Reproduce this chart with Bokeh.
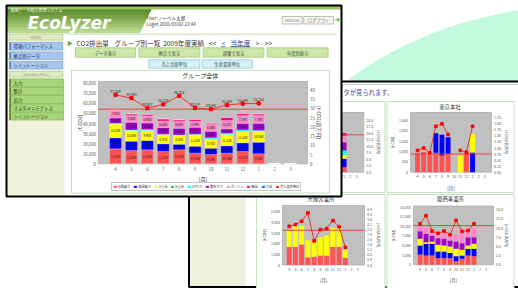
import math
import numpy as np
from bokeh.plotting import figure
from bokeh.models import Range1d, ColumnDataSource, Legend, LegendItem
from bokeh.core.properties import value
from bokeh.embed import file_html
from bokeh.resources import INLINE

NAN = float("nan")

# ---------------- data ----------------
months = ["4", "5", "6", "7", "8", "9", "10", "11", "12", "1", "2", "3"]
fuels = ["昼間電力", "夜間電力", "A重油", "B重油", "LPガス", "都市ガス", "ガソリン", "軽油", "灯油"]
fuel_colors = ["#ff5252", "#0000ff", "#ffff00", "#00e000", "#00ffff", "#a000c8", "#ff88c8", "#ff0080", "#0070c0"]
line_name = "売上高原単位"

# グループ全体 [t-CO2]
group_day = [14850, 13200, 13860, 12210, 13860, 10560, 9240, 10560, 12210, 9900, 0, 0]
group_night = [10900, 9240, 9240, 7590, 5610, 6930, 6270, 7260, 8580, 11550, 0, 0]
group_a_oil = [13860, 10560, 9900, 8910, 8580, 11220, 8910, 11220, 11220, 10560, 0, 0]
group_b_oil = [0, 0, 0, 0, 0, 0, 0, 0, 0, 0, 0, 0]
group_lpg = [660, 660, 990, 660, 660, 660, 1320, 1320, 1650, 990, 0, 0]
group_city_gas = [5280, 7590, 6600, 6600, 6600, 6930, 6600, 4290, 6600, 7260, 0, 0]
group_gasoline = [7920, 6600, 6930, 6600, 6600, 5940, 6600, 8250, 7590, 7590, 0, 0]
group_diesel = [0, 1650, 1320, 1980, 1650, 1650, 1320, 2970, 1980, 1650, 0, 0]
group_kerosene = [0, 0, 0, 0, 0, 0, 0, 0, 0, 0, 0, 0]
group_intensity = [37.228, 35.480, 30.007, 32.133, 36.752, 30.157, 29.540, 31.808, 32.548, 32.712, NAN, NAN]
group_target = 54180
group_ticks_l = [0, 10000, 20000, 30000, 40000, 50000, 60000, 70000, 80000]
group_ticks_r = [0, 5, 10, 15, 20, 25, 30, 35, 40]

# partly hidden chart (only the last months are visible)
part_day = [0, 0, 0, 0, 0, 0, 0, 0, 0, 250, 0, 0]
part_night = [0, 0, 0, 0, 0, 0, 0, 0, 0, 420, 0, 0]
part_a_oil = [0, 0, 0, 0, 0, 0, 0, 0, 0, 200, 0, 0]
part_lpg = [0, 0, 0, 0, 0, 0, 0, 0, 0, 215, 0, 0]
part_city_gas = [0, 0, 0, 0, 0, 0, 0, 0, 0, 415, 0, 0]
part_gasoline = [0, 0, 0, 0, 0, 0, 0, 0, 0, 335, 0, 0]
part_diesel = [0, 0, 0, 0, 0, 0, 0, 0, 0, 135, 0, 0]
part_target = 1880
part_ticks_r = [0.0, 2.5, 5.0, 7.5, 10.0, 12.5, 15.0, 17.5, 20.0]

# 東京本社
tokyo_day = [930, 975, 815, 939, 808, 890, 0, 0, 939, 0, 0, 0]
tokyo_night = [0, 0, 0, 949, 1000, 804, 0, 0, 0, 953, 0, 0]
tokyo_a_oil = [0, 0, 0, 0, 0, 0, 0, 808, 0, 906, 0, 0]
tokyo_intensity = [0.90, 1.00, 0.80, 1.90, 2.00, 1.56, NAN, 0.90, 0.83, 1.90, NAN, NAN]
tokyo_target = 880
tokyo_ticks_l = [0, 500, 1000, 1500, 2000, 2500]
tokyo_ticks_r = [0.00, 0.25, 0.50, 0.75, 1.00, 1.25, 1.50, 1.75, 2.00, 2.25]

# 大阪営業所
osaka_day = [1680, 1680, 1930, 720, 790, 890, 890, 1680, 1680, 670, 0, 0]
osaka_a_oil = [1590, 1970, 1780, 1590, 1460, 1680, 1870, 1780, 1710, 760, 0, 0]
osaka_intensity = [3.07, 3.21, 3.47, 4.14, 1.91, 2.81, 2.89, 3.52, 3.04, 1.40, NAN, NAN]
osaka_target = 3260
osaka_ticks_l = [0, 1000, 2000, 3000, 4000, 5000]
osaka_ticks_r = [0.0, 0.4, 0.8, 1.2, 1.6, 2.0, 2.4, 2.8, 3.2, 3.6, 4.0, 4.4]

# 関西事業所
kansai_day = [2680, 2420, 2420, 1720, 1720, 1720, 940, 1560, 2420, 2240, 0, 0]
kansai_night = [2350, 3050, 3050, 1740, 1740, 1320, 1300, 860, 1740, 1920, 0, 0]
kansai_a_oil = [1770, 430, 610, 1740, 1570, 1730, 1920, 1480, 870, 1310, 0, 0]
kansai_city_gas = [1950, 2170, 1560, 1730, 1730, 1560, 1910, 1740, 2170, 1730, 0, 0]
kansai_gasoline = [1450, 1560, 1040, 1560, 1570, 1310, 2000, 3130, 1910, 2430, 0, 0]
kansai_intensity = [11.2, 13.4, 9.2, 8.6, 9.2, 8.2, 12.1, 9.1, 9.35, 11.2, NAN, NAN]
kansai_target = 10200
kansai_ticks_l = [0, 2500, 5000, 7500, 10000, 12500, 15000]
kansai_ticks_r = [0.0, 2.5, 5.0, 7.5, 10.0, 12.5, 15.0]

# ---------------- canvas (data units = page pixels) ----------------
W, H = 518, 288
X0, X1 = 0, W
YB, YT = H, 0
FONT = "Noto Sans CJK JP"

p = figure(width=W, height=H, x_range=Range1d(X0, X1), y_range=Range1d(YB, YT),
           output_backend="svg", toolbar_location=None, min_border=0,
           x_axis_location=None, y_axis_location=None)
p.xgrid.visible = False
p.ygrid.visible = False
p.outline_line_color = None
p.background_fill_color = "white"
p.border_fill_color = "white"


def fsz(v):
    return f"{v:.2f}px"


def box(l, r, t, b, fill, line=None, lw=1.0, dash="solid"):
    p.quad(left=[l], right=[r], top=[t], bottom=[b], fill_color=fill,
           line_color=line, line_width=lw, line_dash=dash)


def hline(x0, x1, y, color, lw=1.0, dash="solid"):
    p.segment(x0=[x0], x1=[x1], y0=[y], y1=[y], line_color=color, line_width=lw, line_dash=dash)


def label(x, y, s, size, color="#333333", align="left", baseline="middle", angle=0.0,
          style="normal", font=FONT, xr="default", yr="default", xo=0, yo=0):
    xs = list(x) if isinstance(x, (list, tuple)) else [x]
    ys = list(y) if isinstance(y, (list, tuple)) else [y]
    ts = list(s) if isinstance(s, (list, tuple)) else [s]
    p.text(x=xs, y=ys, text=ts, x_range_name=xr, y_range_name=yr,
           text_font=value(font), text_font_size=fsz(size), text_color=color,
           text_align=align, text_baseline=baseline, angle=angle,
           text_font_style=style, x_offset=xo, y_offset=yo)


def span_range(p_lo, p_hi, v_lo, v_hi, f_start, f_end):
    k = (v_hi - v_lo) / (p_hi - p_lo)
    return Range1d(start=v_lo + (f_start - p_lo) * k, end=v_lo + (f_end - p_lo) * k)


def chart(key, frame, xlim, lim_l, lim_r, stacks, colors, intensity, target,
          ticks_l, ticks_r, fmt_l, fmt_r, bar_w, tick_size, title=None, title_xy=None,
          ylab_x=None, rlab_x=None, xlab_y=None, seg_labels=False, point_labels=False,
          marker=2.6, bar_line=None, lab_size=None):
    l, r, t, b = frame
    kx, kl, kr = key + "_x", key + "_l", key + "_r"
    p.extra_x_ranges[kx] = span_range(l, r, xlim[0], xlim[1], X0, X1)
    p.extra_y_ranges[kl] = span_range(b, t, lim_l[0], lim_l[1], YB, YT)
    p.extra_y_ranges[kr] = span_range(b, t, lim_r[0], lim_r[1], YB, YT)
    box(l, r, t, b, "#c0c0c0", "#a8a8a8", 0.7)
    xs = list(range(len(months)))
    data = {"x": xs}
    names = []
    for i, s in enumerate(stacks):
        data[f"s{i}"] = s
        names.append(f"s{i}")
    src = ColumnDataSource(data)
    if bar_line:
        bars = p.vbar_stack(names, x="x", width=bar_w, color=colors, source=src,
                            x_range_name=kx, y_range_name=kl,
                            line_color="#ffffff", line_alpha=0.45, line_width=0.5)
    else:
        bars = p.vbar_stack(names, x="x", width=bar_w, fill_color=colors, line_color=None,
                            source=src, x_range_name=kx, y_range_name=kl)
    if seg_labels:
        arr = np.array(stacks, dtype=float)
        tops = np.cumsum(arr, axis=0)
        mids = tops - arr / 2
        lx, ly, lt = [], [], []
        for i in range(arr.shape[0]):
            for j in range(arr.shape[1]):
                if arr[i, j] >= 4000:
                    lx.append(xs[j]); ly.append(float(mids[i, j])); lt.append(f"{int(arr[i, j]):,}")
        label(lx, ly, lt, 3.1, "#222222", "center", "middle", xr=kx, yr=kl)
    p.segment(x0=[xlim[0]], x1=[xlim[1]], y0=[target], y1=[target], x_range_name=kx,
              y_range_name=kl, line_color="#ee3333", line_width=0.9)
    ln = mk = None
    if intensity is not None:
        ln = p.line(xs, intensity, x_range_name=kx, y_range_name=kr, line_color="#e82828", line_width=0.9)
        mk = p.scatter(xs, intensity, x_range_name=kx, y_range_name=kr, marker="square",
                       size=marker, color="#ff0000")
        if point_labels:
            px = [xs[i] for i, v in enumerate(intensity) if not math.isnan(v)]
            py = [v for v in intensity if not math.isnan(v)]
            pt = [f"{v:.3f}" for v in intensity if not math.isnan(v)]
            label(px, py, pt, 3.4, "#222222", "center", "bottom", xr=kx, yr=kr, yo=-2)
    if ticks_l is not None:
        label([xlim[0]] * len(ticks_l), ticks_l, [fmt_l(v) for v in ticks_l], tick_size,
              "#555555", "right", "middle", xr=kx, yr=kl, xo=-2.5)
    if ticks_r is not None:
        label([xlim[1]] * len(ticks_r), ticks_r, [fmt_r(v) for v in ticks_r], tick_size,
              "#555555", "left", "middle", xr=kx, yr=kr, xo=2.5)
    label(xs, [lim_l[0]] * len(xs), months, tick_size, "#555555", "center", "top",
          xr=kx, yr=kl, yo=3)
    cy = (t + b) / 2
    cx = (l + r) / 2
    ls = lab_size if lab_size else tick_size + 0.6
    if ylab_x is not None:
        label(ylab_x, cy, "[t-CO2]", ls, "#333333", "center", "middle", angle=math.pi / 2)
    if rlab_x is not None:
        label(rlab_x, cy, "[t-CO2/百万円]", ls, "#333333", "center", "middle", angle=-math.pi / 2)
    if xlab_y is not None:
        label(cx, xlab_y, "[月]", tick_size + 0.8, "#333333", "center", "middle")
    if title:
        label(title_xy[0], title_xy[1], title, tick_size + 1.8, "#333333", "center", "middle")
    return bars, ln, mk


def fmt_int(v):
    return f"{int(v):,}"


def fmt1(v):
    return f"{v:.1f}"


def fmt2(v):
    return f"{v:.2f}"


# ---------------- background: mint arc ----------------
p.ellipse(x=[573], y=[390], width=[768], height=[768], fill_color="#c2f9df", line_color=None)

# ---------------- second (back) window ----------------
box(188.5, 530, 81, 286.5, "white", "black", 2)
box(190, 245, 82, 285.5, "#eef2dc")
hline(341, 518, 84, "#9a9ac0", 1, "1 1")
label(343, 92, "タが見られます。", 6.3, "#4848a0")
box(250, 384.5, 101, 192, "white", "#c4e0bc", 1)
box(386.5, 513.5, 101, 192, "white", "#c4e0bc", 1)
box(256, 384.5, 194, 292, "white", "#c4e0bc", 1)
box(386.5, 513.5, 194, 292, "white", "#c4e0bc", 1)

chart("part", (280, 363.3, 112, 171.7), (-1.08, 12.14), (0, 3000), (0, 23.1),
      [part_day, part_night, part_a_oil, part_lpg, part_city_gas, part_gasoline, part_diesel],
      [fuel_colors[i] for i in (0, 1, 2, 4, 5, 6, 7)], None, part_target,
      None, part_ticks_r, fmt_int, fmt1, 0.8, 3.6, rlab_x=377.5, lab_size=3.6)

chart("tokyo", (410, 491, 112, 171.7), (-1.15, 12.1), (0, 2890), (0, 2.47),
      [tokyo_day, tokyo_night, tokyo_a_oil], fuel_colors[0:3], tokyo_intensity, tokyo_target,
      tokyo_ticks_l, tokyo_ticks_r, fmt_int, fmt2, 0.8, 3.6, title="東京本社",
      title_xy=(449.5, 106), ylab_x=391.5, rlab_x=505.5, xlab_y=187.5, lab_size=3.6)

chart("osaka", (282, 364, 205, 264.5), (-1.07, 12.07), (0, 5580), (0, 4.72),
      [osaka_day, osaka_a_oil], [fuel_colors[0], fuel_colors[2]], osaka_intensity, osaka_target,
      osaka_ticks_l, osaka_ticks_r, fmt_int, fmt1, 0.8, 3.6, title="大阪営業所",
      title_xy=(320.5, 198.8), ylab_x=264, rlab_x=377.5, xlab_y=279.5, lab_size=3.6)

chart("kansai", (413, 493, 205.5, 264.3), (-1.1, 12.25), (0, 15310), (0, 16.04),
      [kansai_day, kansai_night, kansai_a_oil, kansai_city_gas, kansai_gasoline],
      [fuel_colors[i] for i in (0, 1, 2, 5, 6)], kansai_intensity, kansai_target,
      kansai_ticks_l, kansai_ticks_r, fmt_int, fmt1, 0.8, 3.6, title="関西事業所",
      title_xy=(450, 198.8), ylab_x=393, rlab_x=505.5, xlab_y=279.5, lab_size=3.6)

# ---------------- main (front) window ----------------
box(6, 341, 5, 196, "white")
# header gradient block
hdr_top, hdr_bot = 5.0, 32.5
n_band = 9
c0 = np.array([0x4e, 0x80, 0x1c])
c1 = np.array([0xb8, 0xda, 0x8c])
for i in range(n_band):
    ya = hdr_top + (hdr_bot - hdr_top) * i / n_band
    yb = hdr_top + (hdr_bot - hdr_top) * (i + 1) / n_band
    xa = 153 - (ya - hdr_top) * 0.5
    xb = 153 - (yb - hdr_top) * 0.5
    c = c0 + (c1 - c0) * (i / (n_band - 1))
    col = "#%02x%02x%02x" % tuple(int(v) for v in c)
    p.patch(x=[6, xa, xb, 6], y=[ya, ya, yb + 0.3, yb + 0.3], fill_color=col, line_color=None)
box(6, 341, 5, 9, "#94c45a")
label(10, 9.2, "環境データ総合管理システム", 4.0, "#f4f8ee")
label(27, 22.5, "EcoLyzer", 17, "white", style="bold italic", font="DejaVu Sans")
label(146, 17.3, "User:ノーベル太郎", 4.6, "#333333")
label(146, 23.3, "Login 2010/03/02 22:44", 4.6, "#333333")
box(281.7, 301.7, 16, 23.5, "#f6f6f2", "#a8b898", 0.8)
label(291.7, 19.8, "ENGLISH", 3.6, "#777777", "center")
box(303.3, 333, 16, 23.5, "#f6f6f2", "#a8b898", 0.8)
label(318.2, 19.8, "ログアウト", 4.4, "#666666", "center")
label(336.8, 19.8, "➜", 7, "#4a9a20", "center", font="DejaVu Sans")
hline(66, 336, 33.7, "#cbdcb8", 1)

# sidebar
box(7, 64, 33, 195, "#eff3dc")
box(9, 62, 33.5, 39.5, "#dfeac4", "#b8cc90", 0.7)
label(35.5, 36.6, "Menu", 3.8, "#8a9a70", "center")
blue_items = ["環境パフォーマンス", "拠点別データ", "シミュレーション"]
for (ta, tb), s in zip([(42, 49.5), (51.5, 59), (61, 68.5)], blue_items):
    box(9, 62, ta, tb, "#a6c6ee", "#7ea4d8", 0.7)
    box(9, 10.5, ta, tb, "#5a88c8")
    label(13, (ta + tb) / 2, s, 4.4, "#1a2a6a")
box(9, 62, 71, 76.5, "#dfeac4", "#b8cc90", 0.7)
label(35.5, 73.8, "Operation Menu", 3.4, "#8a9a70", "center")
green_items = ["入力", "集計", "出力", "マスタメンテナンス", "シミュレーション"]
for (ta, tb), s in zip([(78.5, 86.5), (87, 94.5), (95, 103), (103.5, 111.5), (112, 119.5)], green_items):
    box(9, 63, ta, tb, "#a8d47c", "#86b858", 0.7)
    box(9, 10.5, ta, tb, "#5a8a2a")
    label(13, (ta + tb) / 2, s, 4.4, "#1a3a0a")

# page title row
label(69.5, 42.7, "▶", 5.5, "#6aa830", "center")
label(76, 42.7, "CO2排出量", 6.6, "#333333")
label(114, 42.7, "グループ別一覧", 6.6, "#333333")
label(162.7, 42.7, "2009年度実績", 6.6, "#333333")
label(208.3, 42.7, "<<", 6.6, "#333333")
label(221, 42.7, "<", 6.6, "#2a3a9a")
label(230, 42.7, "当年度", 6.6, "#2a3a9a")
label(255, 42.7, ">", 6.6, "#333333")
label(264.3, 42.7, ">>", 6.6, "#333333")
hline(220.5, 225, 46.3, "#2a3a9a", 0.8)
hline(229.5, 249.5, 46.3, "#2a3a9a", 0.8)

btn1 = ["データ表示", "拠点で見る", "部署で見る", "年度別表示"]
for (xa, xb), s in zip([(75, 135), (138.3, 199.3), (202.7, 263.3), (266.7, 327.7)], btn1):
    box(xa, xb, 47.3, 56.7, "#cbe8a6", "#a6cc82", 0.8)
    label((xa + xb) / 2, 52, s, 4.3, "#444444", "center")
btn2 = ["売上高原単位", "生産量原単位"]
for (xa, xb), s in zip([(148.3, 199.3), (201.7, 251.7)], btn2):
    box(xa, xb, 59.3, 67.7, "#d2f4f8", "#98c6d4", 0.8)
    label((xa + xb) / 2, 63.5, s, 4.3, "#444444", "center")

# chart panel
box(71, 329, 70, 192.5, "white", "#c6e2bc", 1)
bars, gl, gm = chart("group", (98, 307, 81, 163.3), (-1.07, 12.07), (0, 81700), (0, 44.5),
                     [group_day, group_night, group_a_oil, group_b_oil, group_lpg, group_city_gas,
                      group_gasoline, group_diesel, group_kerosene],
                     fuel_colors, group_intensity, group_target, group_ticks_l, group_ticks_r,
                     fmt_int, fmt_int, 0.75, 4.3, title="グループ全体", title_xy=(200, 74.5),
                     ylab_x=79, rlab_x=318.5, xlab_y=178, seg_labels=True, point_labels=True,
                     marker=3.2, bar_line=True)
label(98, group_target, f"{group_target:,}", 3.2, "#ee3333", "left", "bottom",
      xr="group_x", yr="group_l", xo=1.5, yo=-0.5)

items = [LegendItem(label=n, renderers=[r]) for n, r in zip(fuels, bars)]
items.append(LegendItem(label=line_name, renderers=[gl, gm]))
leg = Legend(items=items, orientation="horizontal",
             location=(110.5 - X0, YB - 191.3),
             label_text_font=FONT, label_text_font_size="3.2px", label_text_color="#333333",
             glyph_width=4, glyph_height=3, label_standoff=1, spacing=3, padding=1,
             margin=0, label_height=3, label_width=1,
             border_line_color="#8a8a8a", border_line_width=0.7,
             background_fill_color="white", background_fill_alpha=1.0)
p.add_layout(leg)

# window frame of the main window
box(6, 341, 5, 196, None, "black", 2)

open("out.html", "w").write(file_html(p, INLINE))
